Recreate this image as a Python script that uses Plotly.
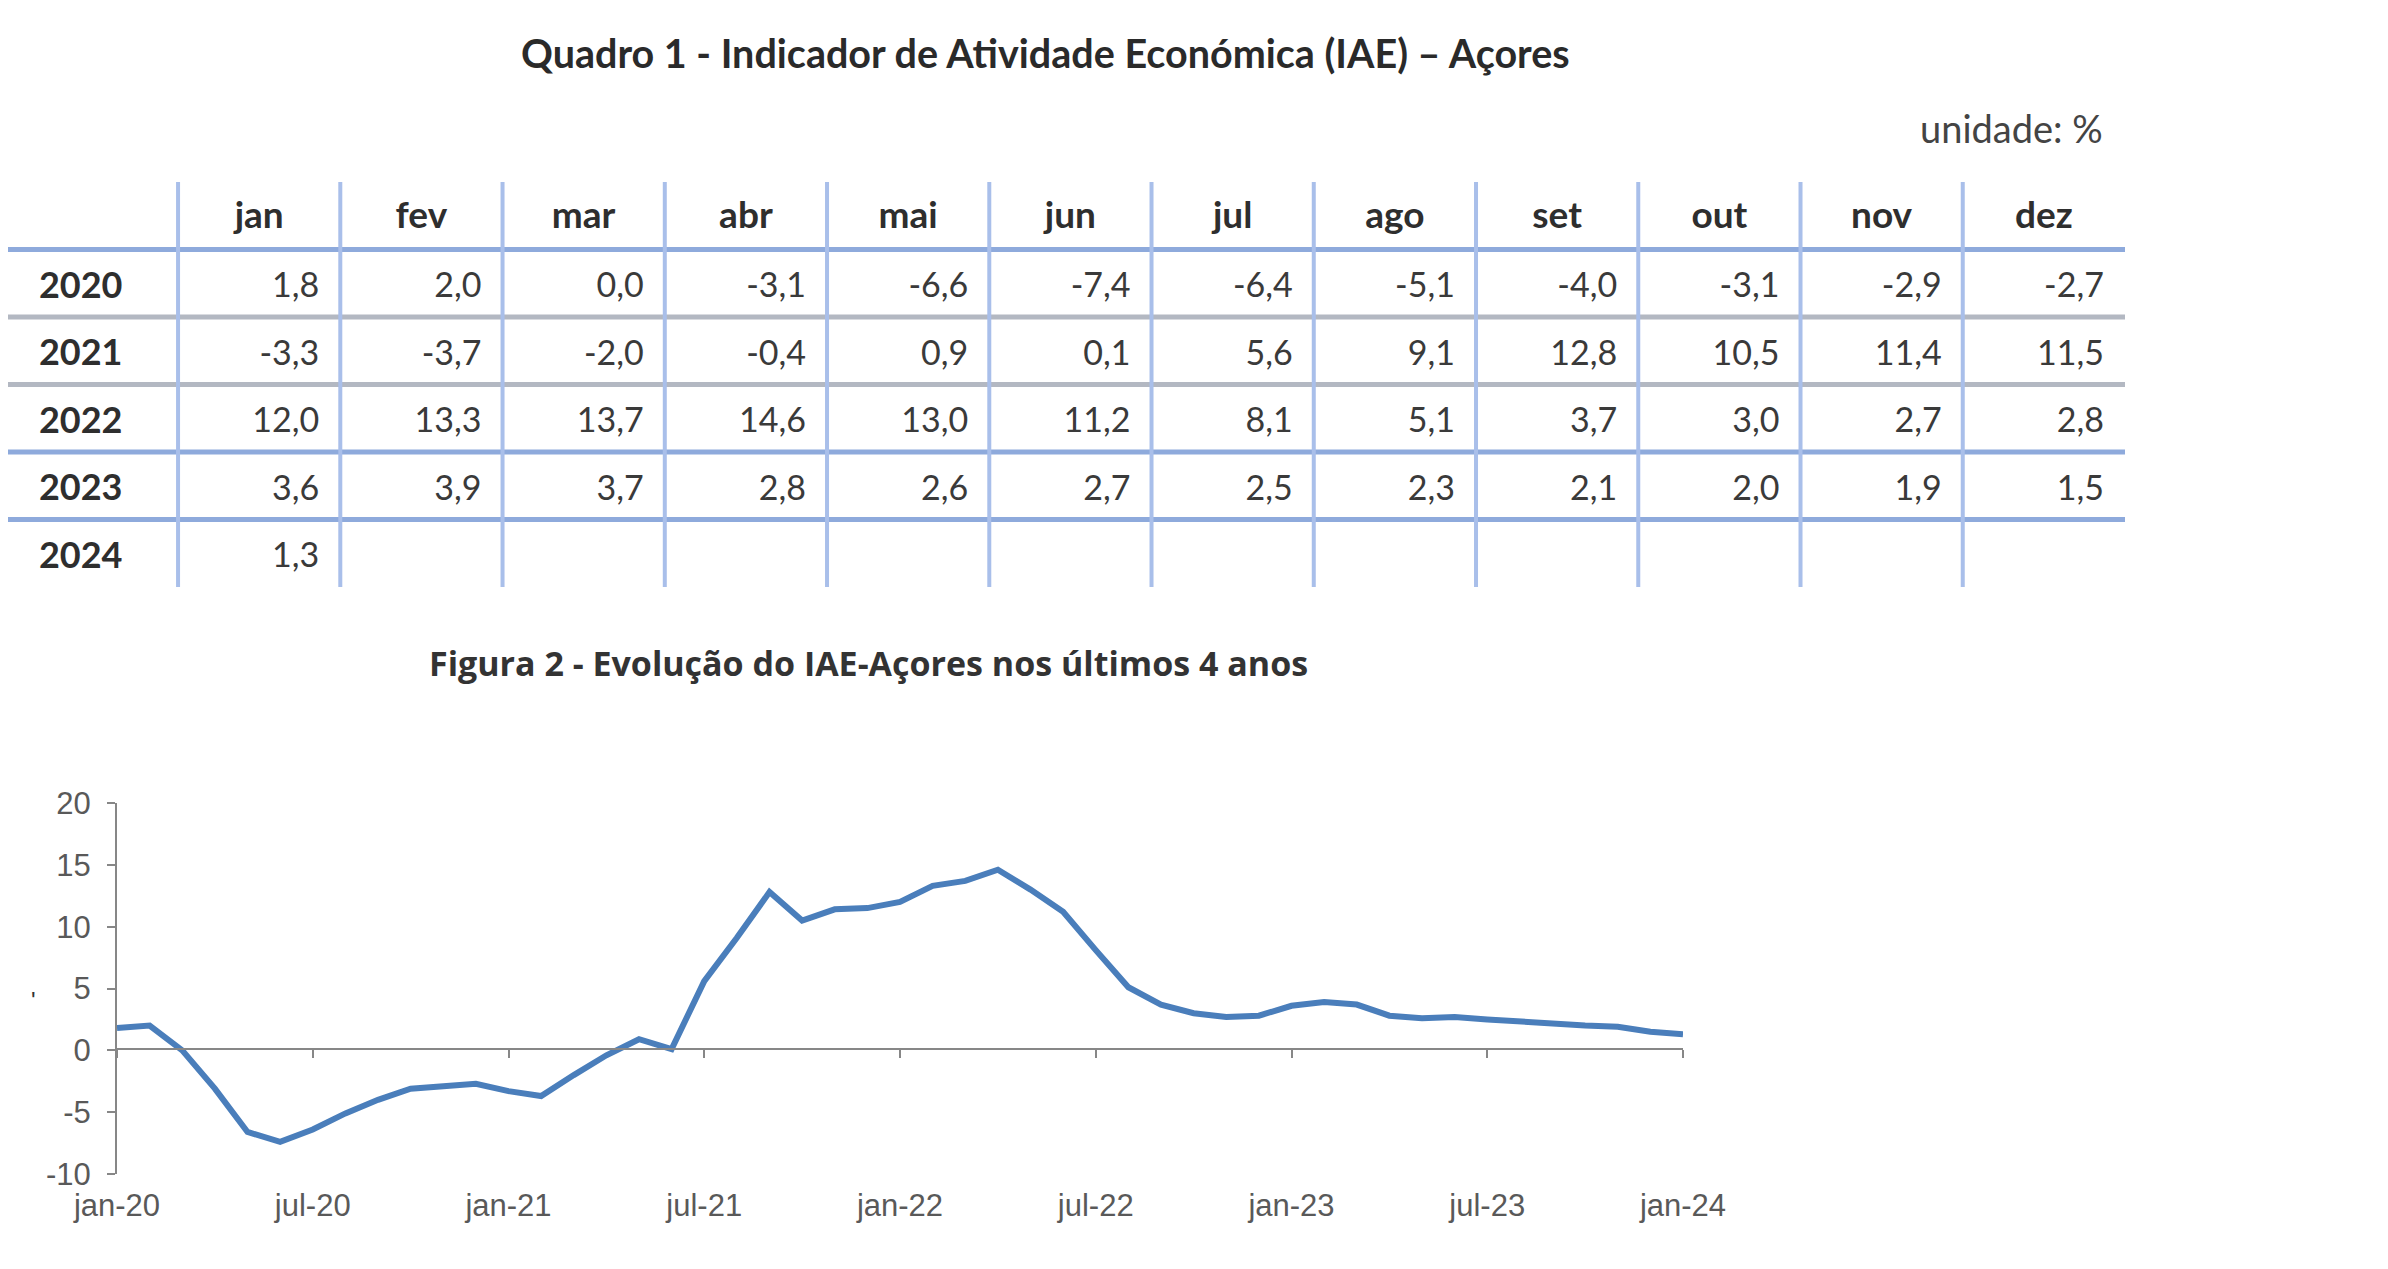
import plotly.graph_objects as go

# page body has an 8px margin: the figure is placed at (8, 8) in the window
OFF = 8
W, H = 2388 - 2 * OFF, 1269 - 2 * OFF

# ---------------- data ----------------
months = ["jan", "fev", "mar", "abr", "mai", "jun", "jul", "ago", "set", "out", "nov", "dez"]
years = ["2020", "2021", "2022", "2023", "2024"]
v2020 = [1.8, 2.0, 0.0, -3.1, -6.6, -7.4, -6.4, -5.1, -4.0, -3.1, -2.9, -2.7]
v2021 = [-3.3, -3.7, -2.0, -0.4, 0.9, 0.1, 5.6, 9.1, 12.8, 10.5, 11.4, 11.5]
v2022 = [12.0, 13.3, 13.7, 14.6, 13.0, 11.2, 8.1, 5.1, 3.7, 3.0, 2.7, 2.8]
v2023 = [3.6, 3.9, 3.7, 2.8, 2.6, 2.7, 2.5, 2.3, 2.1, 2.0, 1.9, 1.5]
v2024 = [1.3]
chart_ticks = ["jan-20", "jul-20", "jan-21", "jul-21", "jan-22", "jul-22", "jan-23", "jul-23", "jan-24"]
y_ticks = [-10, -5, 0, 5, 10, 15, 20]
y_tick_text = ["-10", "-5", "0", "5", "10", "15", "20"]

rows = [v2020, v2021, v2022, v2023, v2024]
series = v2020 + v2021 + v2022 + v2023 + v2024
month_idx = list(range(len(series)))
tick_pos = [i * 6 for i in range(len(chart_ticks))]


def fmt(v):
    return f"{v:.1f}".replace(".", ",")


def px_x(p):
    return (p - OFF) / W


def px_y(p):
    return 1 - (p - OFF) / H


BLUE_LINE = "#8eaadc"
GRAY_LINE = "#b3b8c2"
VERT_LINE = "#a9bfea"
TXT = "#2e2e2e"
ROW_TEXT_SHIFT = 0.58   # text sits slightly below cell centre
HEAD_TEXT_SHIFT = 0.54

fig = go.Figure()

# ---------------- table (x2 / y2) ----------------
fig.add_trace(go.Scatter(
    x=[k + 0.5 for k in range(len(months))], y=[HEAD_TEXT_SHIFT] * len(months),
    text=months, mode="text", textposition="middle center",
    textfont=dict(family="Lato", size=37, color=TXT, weight="bold"),
    xaxis="x2", yaxis="y2", hoverinfo="skip", showlegend=False))
fig.add_trace(go.Scatter(
    x=[-0.6] * len(years), y=[r + 1 + ROW_TEXT_SHIFT for r in range(len(years))],
    text=years, mode="text", textposition="middle center",
    textfont=dict(family="Lato", size=36, color=TXT, weight="bold"),
    xaxis="x2", yaxis="y2", hoverinfo="skip", showlegend=False))
vx, vy, vt = [], [], []
for r, vals in enumerate(rows):
    for k, v in enumerate(vals):
        vx.append(k + 1 - 0.13)
        vy.append(r + 1 + ROW_TEXT_SHIFT)
        vt.append(fmt(v))
fig.add_trace(go.Scatter(
    x=vx, y=vy, text=vt, mode="text", textposition="middle left",
    textfont=dict(family="Lato", size=34, color="#3a3a3a"),
    xaxis="x2", yaxis="y2", hoverinfo="skip", showlegend=False))

# horizontal rules
line_colors = [BLUE_LINE, GRAY_LINE, GRAY_LINE, BLUE_LINE, BLUE_LINE]
x2_left = -(178 - OFF) / 162.2
for i, c in enumerate(line_colors):
    fig.add_shape(type="line", xref="x2", yref="y2", x0=x2_left, x1=12,
                  y0=i + 1, y1=i + 1, line=dict(color=c, width=5), layer="below")
# vertical rules
for k in range(len(months)):
    fig.add_shape(type="line", xref="x2", yref="y2", x0=k, x1=k, y0=0, y1=6,
                  line=dict(color=VERT_LINE, width=4), layer="below")

# ---------------- line chart ----------------
fig.add_trace(go.Scatter(
    x=month_idx, y=series, mode="lines",
    line=dict(color="#4a7ebb", width=6),
    xaxis="x", yaxis="y", hoverinfo="skip", showlegend=False))
fig.add_trace(go.Scatter(
    x=[0, 48], y=[0, 0], mode="lines", line=dict(width=0), opacity=0,
    xaxis="x3", yaxis="y", hoverinfo="skip", showlegend=False))

chart_dom_x = [px_x(117), px_x(1683)]
chart_dom_y = [px_y(1174), px_y(803)]
axis_gray = "#878787"
tick_font = dict(family="Liberation Sans", size=31, color="#595959")

fig.update_layout(
    width=W, height=H,
    margin=dict(l=0, r=0, t=0, b=0, pad=0, autoexpand=False),
    paper_bgcolor="white", plot_bgcolor="rgba(0,0,0,0)",
    xaxis=dict(domain=chart_dom_x, range=[0, 48], tickvals=tick_pos, ticktext=chart_ticks,
               showline=False, showgrid=False, zeroline=False, ticks="", automargin=False,
               tickfont=tick_font, ticklabelstandoff=10, anchor="y", fixedrange=True),
    xaxis3=dict(overlaying="x", range=[0, 48], tickvals=tick_pos, showticklabels=False,
                anchor="free", position=px_y(1049), showline=True, linecolor=axis_gray,
                linewidth=2, ticks="outside", ticklen=8, tickwidth=2, tickcolor=axis_gray,
                showgrid=False, zeroline=False, side="bottom", automargin=False),
    yaxis=dict(domain=chart_dom_y, range=[-10, 20], tickvals=y_ticks, ticktext=y_tick_text,
               automargin=False,
               showline=True, linecolor=axis_gray, linewidth=2, ticks="outside",
               ticklen=8, tickwidth=2, tickcolor=axis_gray, showgrid=False, zeroline=False,
               tickfont=tick_font, ticklabelstandoff=10, anchor="x"),
    xaxis2=dict(domain=[0, px_x(2125)], range=[x2_left, 12], visible=False,
                anchor="y2", automargin=False),
    yaxis2=dict(domain=[px_y(587), px_y(182)], range=[6, 0], visible=False,
                anchor="x2", automargin=False),
)

ann = [
    dict(text="Quadro 1 - Indicador de Atividade Económica (IAE) – Açores",
         x=px_x(1045), y=px_y(53), font=dict(family="Lato", size=39.5, color="#2a2a2a", weight="bold")),
    dict(text="unidade: %", x=px_x(2105), y=px_y(128), xanchor="right",
         font=dict(family="Lato", size=38, color="#444444")),
    dict(text="Figura 2 - Evolução do IAE-Açores nos últimos 4 anos",
         x=px_x(868), y=px_y(663), font=dict(family="Open Sans", size=34, color="#333333", weight="bold")),
    dict(text="'", x=px_x(33), y=px_y(1000), font=dict(family="Liberation Sans", size=24, color="#333333")),
]
for a in ann:
    a.setdefault("xanchor", "center")
    fig.add_annotation(xref="paper", yref="paper", showarrow=False, yanchor="middle", **a)

fig.write_html("out.html")
